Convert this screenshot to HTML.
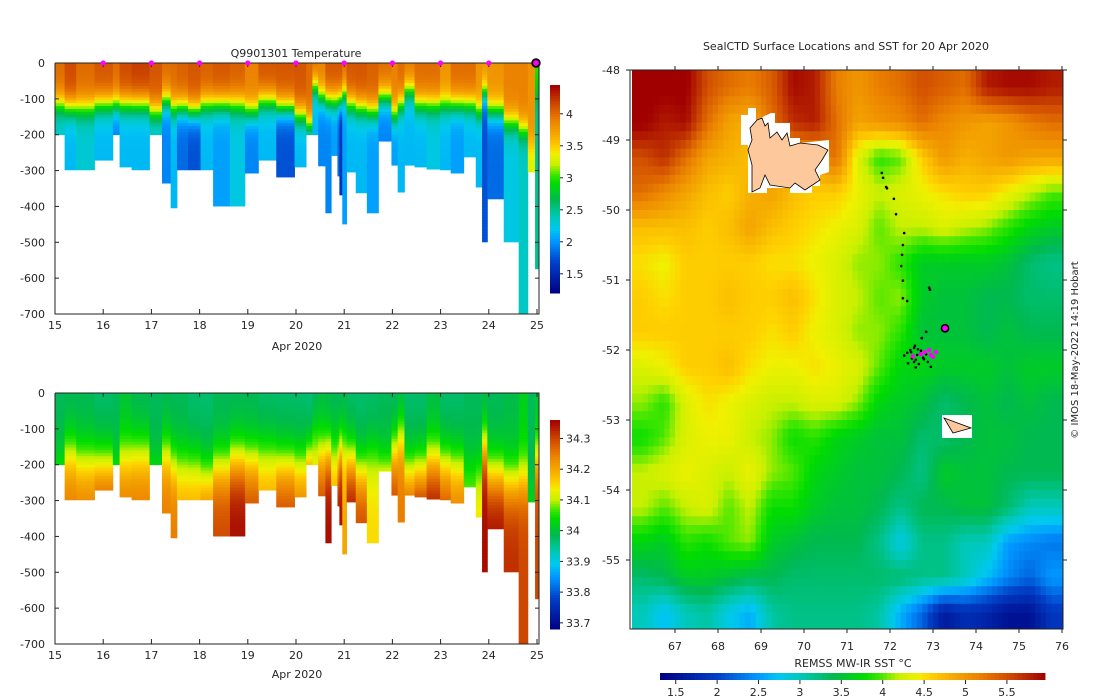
<!DOCTYPE html>
<html><head><meta charset="utf-8">
<style>
html,body{margin:0;padding:0;background:#fff;}
svg{display:block;font-family:"DejaVu Sans","Liberation Sans",sans-serif;}
text{fill:#262626;font-size:11px;}
</style></head>
<body>
<svg id="chart" width="1100" height="700" viewBox="0 0 1100 700">
<rect x="0" y="0" width="1100" height="700" fill="#fff"/>
<g id="tplot"></g>
<g id="splot"></g>
<g id="map"></g>
<text x="296" y="57" text-anchor="middle">Q9901301  Temperature</text>
<text x="297" y="350" text-anchor="middle">Apr 2020</text>
<text x="297" y="678" text-anchor="middle">Apr 2020</text>
<text x="846" y="50" text-anchor="middle">SealCTD Surface Locations and SST for 20 Apr 2020</text>
<text x="853" y="667" text-anchor="middle">REMSS MW-IR SST °C</text>
<text x="0" y="0" transform="translate(1078,350) rotate(-90)" text-anchor="middle" style="font-size:10px">© IMOS 18-May-2022 14:19 Hobart</text>
</svg>
<script>
// ---------- profile data ----------
const colStart=[15.00,15.20,15.44,15.82,16.20,16.34,16.59,16.96,17.22,17.40,17.53,17.76,18.02,18.28,18.63,18.94,19.22,19.59,19.97,20.21,20.34,20.46,20.61,20.73,20.86,20.90,20.96,21.05,21.24,21.47,21.71,21.98,22.11,22.25,22.46,22.71,22.99,23.21,23.48,23.73,23.86,23.97,24.31,24.62,24.81,24.96];
const colEnd=25.04;
const maxDepth=[200,298,298,271,200,290,298,200,335,404,298,298,298,399,399,307,271,318,290,200,200,287,418,258,315,368,449,304,362,418,218,285,360,285,290,296,298,307,262,346,499,379,499,700,304,574];
const tSurf=[4.0,4.15,4.0,4.1,4.0,4.15,4.2,4.1,4.0,4.0,4.05,4.1,4.05,4.1,4.05,3.9,4.1,4.1,4.1,4.0,4.0,3.9,4.1,4.1,4.1,4.1,4.0,4.1,4.1,4.05,4.0,3.9,4.0,3.95,4.0,4.0,3.8,4.0,4.0,3.8,3.8,3.8,3.9,3.9,3.8,3.0];
const tMld=[115,125,125,115,115,115,115,135,105,125,125,135,115,115,115,135,105,125,145,175,65,95,105,105,105,105,85,115,125,135,95,145,115,75,115,115,115,115,115,135,85,135,165,185,225,85];
const tDeep=[2.3,2.15,2.3,2.15,1.95,2.15,2.15,2.25,1.95,2.15,1.85,1.75,2.15,2.05,2.25,1.95,2.15,1.75,2.15,1.95,2.15,1.95,1.95,2.05,1.85,1.6,2.05,2.15,2.15,2.05,1.95,2.05,2.15,2.15,2.15,2.25,2.15,2.05,2.15,2.15,1.75,1.85,2.25,2.35,3.3,2.5];
const sSurf=[33.98,33.98,33.98,33.97,33.98,34.0,33.98,33.98,33.98,33.98,33.98,33.97,33.97,33.98,33.98,33.98,33.97,33.97,33.97,33.96,33.97,33.99,33.98,33.98,33.98,33.97,33.98,33.97,33.97,33.97,33.98,33.97,33.98,33.97,33.97,33.99,33.97,33.97,33.98,33.98,33.98,33.98,33.99,34.02,33.98,34.0];
const sHalo=[140,110,130,140,140,120,110,150,110,140,140,140,170,150,130,130,110,140,140,130,60,110,110,110,130,100,90,130,160,110,160,100,60,160,160,130,140,140,150,160,90,170,190,180,220,120];
const sDeep=[34.1,34.25,34.25,34.3,34.1,34.25,34.25,34.1,34.25,34.25,34.2,34.2,34.25,34.3,34.35,34.3,34.2,34.3,34.25,34.35,34.15,34.3,34.35,34.2,34.35,34.35,34.2,34.35,34.3,34.15,34.25,34.3,34.25,34.3,34.35,34.35,34.3,34.25,34.1,34.15,34.35,34.35,34.32,34.3,34.05,34.3];
const dayTicks=[15,16,17,18,19,20,21,22,23,24,25];
const depthTicks=[0,-100,-200,-300,-400,-500,-600,-700];
const tCbTicks=[1.5,2,2.5,3,3.5,4];
const sCbTicks=[33.7,33.8,33.9,34,34.1,34.2,34.3];
// ---------- SST grid (rows lat -48..-56 step 0.5, cols lon 66..76 step 0.5) ----------
const sstRows=[
[6.0,6.0,6.0,5.5,5.3,5.2,5.4,5.9,5.8,5.2,5.0,5.2,5.3,5.5,5.4,5.3,5.8,5.9,5.9,5.8],
[6.0,5.8,5.9,5.3,4.9,4.8,5.3,5.7,5.8,5.3,4.9,5.0,5.1,5.3,5.1,5.0,4.9,5.0,5.2,5.3],
[5.5,5.7,5.3,4.9,4.8,4.7,4.8,4.9,5.0,5.3,4.3,3.9,4.0,4.6,5.0,4.8,4.9,5.0,4.9,4.9],
[5.3,5.1,4.9,4.7,4.6,4.8,4.9,4.7,4.6,4.6,4.4,4.2,4.3,4.4,4.5,4.6,4.6,4.4,4.2,4.0],
[4.7,4.7,4.7,4.6,4.7,4.9,4.7,4.6,4.5,4.4,4.3,4.0,4.2,4.2,4.3,4.2,4.1,3.9,3.7,3.6],
[4.5,4.4,4.6,4.6,4.6,4.6,4.5,4.5,4.4,4.3,4.1,4.1,3.9,3.6,3.6,3.6,3.6,3.5,3.3,3.2],
[4.6,4.5,4.6,4.6,4.7,4.6,4.6,4.7,4.5,4.3,4.2,4.0,4.1,3.6,3.5,3.5,3.4,3.4,3.3,3.3],
[4.6,4.6,4.6,4.6,4.6,4.6,4.5,4.6,4.4,4.3,4.1,4.1,3.9,3.5,3.5,3.5,3.4,3.5,3.4,3.4],
[4.3,4.4,4.6,4.6,4.7,4.5,4.4,4.4,4.5,4.4,4.3,4.0,3.7,3.7,3.6,3.6,3.6,3.5,3.6,3.6],
[4.1,3.9,4.3,4.5,4.4,4.3,4.2,4.2,4.3,4.3,4.1,3.7,3.6,3.5,3.3,3.4,3.5,3.4,3.5,3.4],
[3.8,4.0,4.3,4.4,4.4,4.2,4.1,3.8,3.9,3.7,3.6,3.5,3.5,3.3,3.3,3.4,3.5,3.5,3.4,3.4],
[4.2,4.3,4.4,4.3,4.2,4.4,4.1,4.0,3.7,3.6,3.5,3.5,3.4,3.2,3.6,3.5,3.5,3.4,3.4,3.4],
[4.2,4.0,4.2,4.3,4.0,4.2,3.8,3.8,3.6,3.5,3.5,3.4,3.2,3.4,3.4,3.5,3.5,3.3,3.0,3.0],
[3.7,3.6,3.9,3.8,4.0,4.1,3.6,3.5,3.4,3.4,3.4,3.2,2.8,3.2,3.2,3.0,3.0,2.5,2.4,2.3],
[3.3,3.4,3.6,3.6,3.5,3.4,3.4,3.3,3.3,3.3,3.3,3.3,3.3,3.2,3.2,3.0,2.7,2.4,2.2,2.5],
[3.0,2.7,3.0,3.1,2.8,2.6,3.1,3.2,3.2,3.2,3.2,3.1,2.6,2.2,1.6,1.8,1.7,1.5,1.5,1.9]];
const lonTicks=[67,68,69,70,71,72,73,74,75,76];
const latTicks=[-48,-49,-50,-51,-52,-53,-54,-55];
const sstCbTicks=[1.5,2,2.5,3,3.5,4,4.5,5,5.5];
const trackLon=[71.81,71.84,71.91,71.93,72.09,72.14,72.33,72.30,72.28,72.26,72.30,72.30,72.40,72.91,72.93,72.84,72.74,72.33,72.40,72.47,72.56,72.65,72.70,72.77,72.51,72.60,72.63,72.72,72.84,72.42,72.58,72.88,72.95,72.49,72.67,72.79,72.56,72.60];
const trackLat=[-49.47,-49.54,-49.67,-49.69,-49.84,-50.06,-50.33,-50.50,-50.64,-50.80,-51.01,-51.26,-51.30,-51.11,-51.14,-51.74,-51.83,-52.08,-52.04,-52.00,-51.97,-51.99,-52.05,-52.11,-52.12,-52.14,-52.07,-52.01,-52.06,-52.19,-51.94,-52.17,-52.24,-52.03,-52.20,-52.13,-52.17,-52.25];
const magLon=[72.53,72.72,72.81,72.95,72.91,73.07,73.00];
const magLat=[-52.09,-52.06,-52.03,-52.07,-52.00,-52.03,-52.10];
const lastLon=[73.28], lastLat=[-51.69];

const NS='http://www.w3.org/2000/svg';
function mk(tag,attrs,parent){const e=document.createElementNS(NS,tag);for(const k in attrs)e.setAttribute(k,attrs[k]);parent.appendChild(e);return e;}
const stops=[[0,[0,0,128]],[0.15,[0,64,200]],[0.25,[0,150,255]],[0.31,[0,200,240]],[0.37,[0,200,180]],[0.45,[0,185,80]],[0.53,[0,220,0]],[0.57,[60,230,0]],[0.62,[200,240,0]],[0.67,[240,240,0]],[0.70,[255,210,0]],[0.76,[245,170,0]],[0.83,[235,130,0]],[0.90,[210,80,0]],[1,[160,0,0]]];
function cmap(t){t=Math.max(0,Math.min(1,t));for(let i=1;i<stops.length;i++){if(t<=stops[i][0]){const a=stops[i-1],b=stops[i];const f=(t-a[0])/(b[0]-a[0]);const c=a[1].map((v,j)=>Math.round(v+(b[1][j]-v)*f));return 'rgb('+c.join(',')+')';}}return 'rgb(160,0,0)';}
function prof(z,s,m,d,w){return d+(s-d)/(1+Math.exp((z-m)/w));}

function section(g,y0,vmin,vmax,surf,mld,deep,off,w,cbY0,cbY1,cbTicks,nm){
  const xD=d=>55+(d-15)*48.2, yZ=z=>y0+z*251/700;
  for(let i=0;i<colStart.length;i++){
    const x0=xD(colStart[i]), x1=xD(i+1<colStart.length?colStart[i+1]:colEnd);
    for(let z=0;z<maxDepth[i];z+=8){
      const z1=Math.min(z+8,maxDepth[i]);
      const v=prof(z+4,surf[i],mld[i]+off,deep[i],w);
      const r=mk('rect',{x:x0,y:yZ(z),width:x1-x0+0.4,height:yZ(z1)-yZ(z)+0.4,fill:cmap((v-vmin)/(vmax-vmin))},g);
      
      
    }
  }
  mk('path',{d:`M55,${y0}V${y0+251}H539V${y0}H55`,fill:'none',stroke:'#222','stroke-width':1},g);
  dayTicks.forEach(d=>{const x=xD(d);mk('line',{x1:x,x2:x,y1:y0+251,y2:y0+246,stroke:'#222'},g);mk('line',{x1:x,x2:x,y1:y0,y2:y0+4,stroke:'#222'},g);
    const t=mk('text',{x:x,y:y0+266,'text-anchor':'middle'},g);t.textContent=d;});
  depthTicks.forEach(v=>{const y=yZ(-v);mk('line',{x1:55,x2:59,y1:y,y2:y,stroke:'#222'},g);mk('line',{x1:539,x2:535,y1:y,y2:y,stroke:'#222'},g);
    const t=mk('text',{x:45,y:y+4,'text-anchor':'end'},g);t.textContent=v;});
  const cb=mk('g',{},g);
  const n=80;for(let k=0;k<n;k++){const y=cbY1-(k+1)*(cbY1-cbY0)/n;mk('rect',{x:550,y:y,width:10,height:(cbY1-cbY0)/n+0.5,fill:cmap((k+0.5)/n)},cb);}
  cbTicks.forEach(v=>{const y=cbY1-(v-vmin)/(vmax-vmin)*(cbY1-cbY0);mk('line',{x1:560,x2:563,y1:y,y2:y,stroke:'#222'},cb);
    const t=mk('text',{x:566,y:y+4},cb);t.textContent=String(v);});
}
const tp=document.getElementById('tplot'), sp=document.getElementById('splot');
section(tp,63,1.2,4.45,tSurf,tMld,tDeep,0,20,85,293,tCbTicks,'temperature');
section(sp,393,33.68,34.36,sSurf,sHalo,sDeep,60,45,420,629,sCbTicks,'salinity');
[16,17,18,19,20,21,22,23,24].forEach(d=>{const c=mk('circle',{cx:55+(d-15)*48.2,cy:63,r:2.6,fill:'#ff00ff'},tp);});
{const c=mk('circle',{cx:536,cy:63,r:3.8,fill:'#ff00ff',stroke:'#000','stroke-width':1.8},tp);}

// ---------- map ----------
const mg=document.getElementById('map');
const xL=l=>675+(l-67)*43, yL=a=>70+(-48-a)*70;
const clip=mk('clipPath',{id:'mclip'},mg);mk('rect',{x:630,y:70,width:433,height:559},clip);
const cells=mk('g',{'clip-path':'url(#mclip)'},mg);
const NR=sstRows.length, NC=sstRows[0].length, SUB=4;
function sstAt(r,c){r=Math.max(0,Math.min(NR-1,r));c=Math.max(0,Math.min(NC-1,c));
  const r0=Math.floor(r),c0=Math.floor(c),r1=Math.min(NR-1,r0+1),c1=Math.min(NC-1,c0+1),fr=r-r0,fc=c-c0;
  return sstRows[r0][c0]*(1-fr)*(1-fc)+sstRows[r0][c1]*(1-fr)*fc+sstRows[r1][c0]*fr*(1-fc)+sstRows[r1][c1]*fr*fc;}
sstRows.forEach((row,r)=>row.forEach((v,c)=>{
  for(let a=0;a<SUB;a++)for(let b=0;b<SUB;b++){
    const rr=r+(a+0.5)/SUB-0.5, cc=c+(b+0.5)/SUB-0.5;
    const val=sstAt(rr,cc);
    const lon=66+(c+b/SUB)*0.5, lat=-48-(r+a/SUB)*0.5;
    const x0=xL(lon), x1=xL(lon+0.5/SUB), y0=yL(lat), y1=yL(lat-0.5/SUB);
    const e=mk('rect',{x:x0,y:y0,width:x1-x0+0.5,height:y1-y0+0.5,fill:cmap((val-1.31)/(5.96-1.31))},cells);
    
    
  }
}));
const k1=mk('polygon',{points:'741,115 748,115 748,108 756,108 756,120 771,113 775,113 775,123 790,123 790,138 800,138 800,143 829,140 829,172 820,175 820,186 812,186 812,193 790,193 790,188 767,188 767,193 748,193 748,145 741,145',fill:'#fff'},mg);

const k2=mk('polygon',{points:'757,120 762,118 765,126 768,123 770,138 777,132 782,140 787,133 790,146 800,143 818,145 828,150 822,160 815,170 820,180 805,190 795,183 790,188 770,185 765,175 760,188 752,192 752,165 748,150 752,140 750,128',fill:'#fdc89c',stroke:'#000','stroke-width':0.8},mg);

const h1=mk('rect',{x:942,y:415,width:30,height:23,fill:'#fff'},mg);
const h2=mk('polygon',{points:'944,418 971,428 953,433',fill:'#fdc89c',stroke:'#000','stroke-width':0.8},mg);
trackLon.forEach((l,i)=>{const c=mk('circle',{cx:xL(l),cy:yL(trackLat[i]),r:1.3,fill:'#000'},mg);});
magLon.forEach((l,i)=>{const c=mk('circle',{cx:xL(l),cy:yL(magLat[i]),r:2.2,fill:'#ff00ff'},mg);});
{const c=mk('circle',{cx:xL(lastLon[0]),cy:yL(lastLat[0]),r:3.6,fill:'#ff00ff',stroke:'#000','stroke-width':1.6},mg);}
mk('rect',{x:630,y:70,width:433,height:559,fill:'none',stroke:'#222'},mg);
lonTicks.forEach(l=>{const x=xL(l);mk('line',{x1:x,x2:x,y1:629,y2:633,stroke:'#222'},mg);mk('line',{x1:x,x2:x,y1:70,y2:66,stroke:'#222'},mg);
  const t=mk('text',{x:x,y:650,'text-anchor':'middle'},mg);t.textContent=l;});
latTicks.forEach(a=>{const y=yL(a);mk('line',{x1:630,x2:626,y1:y,y2:y,stroke:'#222'},mg);mk('line',{x1:1063,x2:1067,y1:y,y2:y,stroke:'#222'},mg);
  const t=mk('text',{x:620,y:y+4,'text-anchor':'end'},mg);t.textContent=a;});
const scb=mk('g',{},mg);
for(let k=0;k<100;k++){mk('rect',{x:660+k*3.85,y:673,width:4.3,height:7,fill:cmap((k+0.5)/100)},scb);}
sstCbTicks.forEach(v=>{const x=660+(v-1.31)/(5.96-1.31)*385;mk('line',{x1:x,x2:x,y1:680,y2:684,stroke:'#222'},scb);
  const t=mk('text',{x:x,y:696,'text-anchor':'middle'},scb);t.textContent=v;});
</script>
</body></html>
